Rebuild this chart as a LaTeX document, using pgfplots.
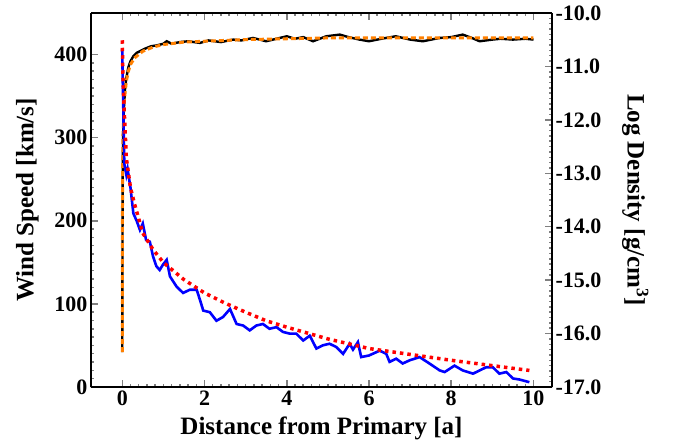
\documentclass[border=0pt]{standalone}
\usepackage{fontspec}
\setmainfont{Liberation Serif}
\usepackage{pgfplots}
\pgfplotsset{compat=1.18}
\usetikzlibrary{calc}
\definecolor{myorange}{RGB}{255,128,0}
\definecolor{myred}{RGB}{255,0,0}
\definecolor{myblue}{RGB}{0,0,255}
\begin{document}
\begin{tikzpicture}
\pgfplotsset{
 common/.style={
  scale only axis, width=461pt, height=374pt,
  xmin=-0.76, xmax=10.45,
  clip=false,
  axis line style={line width=2.4pt},
  tick style={line width=1.5pt},
  major tick length=7pt, minor tick length=3.5pt,
  ticklabel style={font=\fontsize{22}{25}\selectfont\bfseries},
  label style={font=\fontsize{25}{29}\selectfont\bfseries},
 }
}
\begin{axis}[common, name=ax,
 ymin=-0.01, ymax=450,
 hide x axis,
 ytick={0,100,200,300,400}, yticklabels={0,100,200,300,400},
 minor y tick num=9,
 ytick pos=left, yticklabel pos=left,
 ylabel={Wind Speed [km/s]},
 ylabel style={yshift=9pt},
]
\addplot[black, line width=2.4pt] coordinates {
(0,42) (0.005,150) (0.01,250) (0.02,300) (0.04,335) (0.07,360) (0.1,372) (0.15,385) (0.2,392) (0.27,398) (0.35,402) (0.43,404) (0.55,407) (0.7,410) (0.84,411) (1.0,413) (1.08,416) (1.2,413) (1.4,415) (1.6,416) (1.89,414) (2.1,417) (2.4,415) (2.7,418) (2.9,417) (3.18,420) (3.5,416) (3.75,419) (4.0,422) (4.2,419) (4.4,421) (4.64,416) (4.96,422) (5.29,424) (5.5,421) (5.77,418) (6.0,416) (6.3,419) (6.65,422) (7.0,418) (7.31,416) (7.72,420) (8.0,421) (8.28,424) (8.5,420) (8.69,416) (9.0,418) (9.2,419) (9.5,418) (9.8,419) (10.0,418)
};
\addplot[myorange, line width=3pt, dash pattern=on 5pt off 3pt] coordinates {
(0,42) (0.004,200) (0.015,300) (0.05,345) (0.1,368) (0.15,380) (0.2,388) (0.3,396) (0.5,404) (0.75,409) (1,412) (1.5,415) (2,416) (3,418) (4,419) (5,420) (6,420) (7,420) (8,420) (9,420) (10,420)
};
\end{axis}
\begin{axis}[common,
 ymin=-17, ymax=-10,
 hide x axis,
 ytick pos=right, yticklabel pos=right,
 ytick={-17,-16,-15,-14,-13,-12,-11,-10},
 yticklabels={-17.0,-16.0,-15.0,-14.0,-13.0,-12.0,-11.0,-10.0},
 minor y tick num=9,
 ylabel={Log Density [g/cm\textsuperscript{3}]},
 ylabel style={rotate=180, yshift=14pt},
]
\addplot[myblue, line width=2.6pt] coordinates {
(0,-10.68) (0.01,-11.2) (0.02,-11.56) (0.05,-12.82) (0.1,-13.03) (0.13,-12.92) (0.2,-13.27) (0.27,-13.75) (0.35,-13.89) (0.43,-14.06) (0.5,-13.94) (0.58,-14.25) (0.67,-14.28) (0.75,-14.56) (0.83,-14.74) (0.91,-14.81) (0.99,-14.71) (1.08,-14.62) (1.16,-14.93) (1.32,-15.12) (1.48,-15.24) (1.64,-15.18) (1.81,-15.18) (1.89,-15.37) (1.97,-15.57) (2.13,-15.60) (2.29,-15.76) (2.45,-15.69) (2.62,-15.54) (2.78,-15.82) (2.94,-15.85) (3.1,-15.94) (3.26,-15.85) (3.42,-15.82) (3.58,-15.91) (3.75,-15.88) (3.91,-15.97) (4.07,-16.00) (4.23,-16.00) (4.4,-16.13) (4.56,-16.04) (4.72,-16.28) (4.88,-16.22) (5.04,-16.19) (5.2,-16.25) (5.37,-16.38) (5.53,-16.19) (5.61,-16.30) (5.73,-16.16) (5.81,-16.44) (6.0,-16.41) (6.26,-16.32) (6.42,-16.38) (6.5,-16.53) (6.66,-16.47) (6.82,-16.56) (6.99,-16.50) (7.23,-16.44) (7.47,-16.56) (7.72,-16.69) (7.84,-16.72) (8.08,-16.60) (8.28,-16.69) (8.53,-16.75) (8.69,-16.69) (8.85,-16.63) (9.01,-16.63) (9.17,-16.75) (9.34,-16.72) (9.5,-16.84) (9.66,-16.86) (9.9,-16.91)
};
\addplot[myred, line width=3.5pt, dash pattern=on 3.5pt off 4pt] coordinates {
(0,-10.51) (0.02,-11.3) (0.05,-11.87) (0.1,-12.72) (0.2,-13.27) (0.3,-13.58) (0.5,-14.12) (0.75,-14.43) (1,-14.67) (1.5,-14.99) (2,-15.24) (2.5,-15.43) (3,-15.60) (3.5,-15.76) (4,-15.88) (5,-16.10) (6,-16.28) (7,-16.39) (8,-16.50) (9,-16.60) (9.9,-16.69)
};
\end{axis}
\begin{axis}[common,
 ymin=-1, ymax=1,
 hide y axis,
 xtick={0,2,4,6,8,10}, xticklabels={0,2,4,6,8,10},
 minor x tick num=9,
 xtick pos=both, xticklabel pos=bottom,
 xlabel={Distance from Primary [a]},
 xlabel style={yshift=-5pt},
]
\addplot[draw=none] coordinates {(0,0) (10,0)};
\end{axis}
\path ($(ax.south west)+(-91pt,-54pt)$) rectangle ($(ax.north east)+(123pt,13pt)$);
\end{tikzpicture}
\end{document}
